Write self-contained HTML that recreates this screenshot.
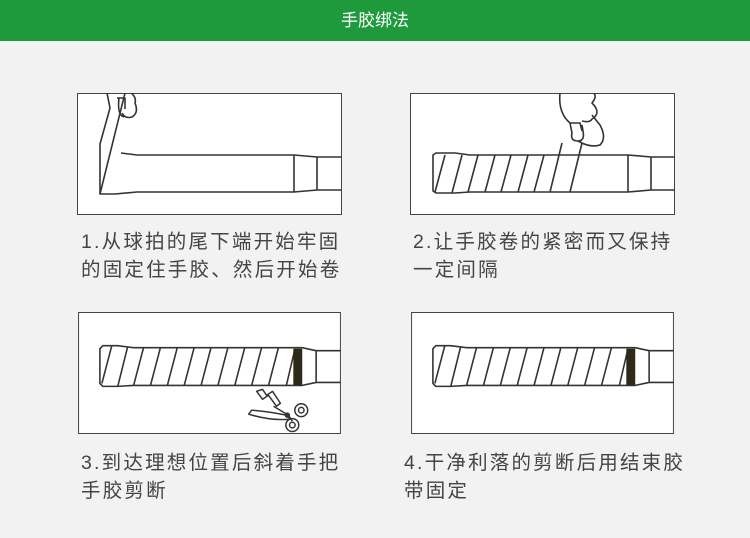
<!DOCTYPE html>
<html><head><meta charset="utf-8"><style>
body{margin:0;width:750px;height:538px;background:#f2f2f2;position:relative;overflow:hidden;font-family:"Liberation Sans","Noto Sans CJK SC",sans-serif}
.hd{position:absolute;left:0;top:0;width:750px;height:41px;background:#1e9a3c;color:#fff;font-size:17px;text-align:center;line-height:41px}
svg.p{position:absolute;width:265px;height:122px}
.t{position:absolute;font-size:19.5px;color:#444;line-height:28px;letter-spacing:2.2px;white-space:nowrap}
</style></head><body>
<div class="hd">手胶绑法</div>

<svg class="p" style="left:77px;top:93px" viewBox="0 0 265 122">
<rect x="0.5" y="0.5" width="264" height="121" fill="#fff" stroke="#444"/>
<g fill="none" stroke="#333" stroke-width="1.6" stroke-linejoin="round">
<path d="M265,64 L240,64 L217,62 L60,62 L44,60 M265,97 L240,97 L217,99 L60,99 L38,101 L23,101 L23,51 L33,15 M217,62 L217,99 M240,64 L240,97"/>
<path d="M23,101 L48,0 M33,15 L30,0 M48,0 L52,-2 Q60,4 58,10 Q62,20 55,24 Q48,26 45,20 M42,5 Q40,22 47,24"/>
<path d="M40,5 L48,5 L48,16"/>
</g></svg>

<svg class="p" style="left:410px;top:93px" viewBox="0 0 265 122">
<rect x="0.5" y="0.5" width="264" height="121" fill="#fff" stroke="#444"/>
<g fill="none" stroke="#333" stroke-width="1.6" stroke-linejoin="round">
<path d="M265,64 L241,64 L218,62 L60,62 L45,60 L26,60 L23,62 L23,98 L26,100 L45,100 L60,99 L218,99 L241,97 L265,97 M218,62 L218,99 M241,64 L241,97"/>
<path d="M25,99 L35,62 M42,100 L52,62 M58,99 L68,62 M75,99 L85,62 M91,99 L101,62 M108,99 L118,62 M124,99 L134,62 M140,99 L152,50 M160,99 L172,50"/>
<path d="M150,0 Q148,20 160,30 L162,40 Q160,48 168,48 Q175,48 173,38 L172,32 M172,28 Q180,30 182,26 Q192,20 182,10 Q190,0 178,-2 M168,48 Q180,55 190,52 Q197,45 190,32 L182,22 M160,30 L170,30 L172,38"/>
</g></svg>

<svg class="p" style="left:77px;top:312px" viewBox="0 0 265 123">
<rect x="0.5" y="0.5" width="264" height="122" fill="#fff" stroke="#444"/>
<g fill="none" stroke="#333" stroke-width="1.6" stroke-linejoin="round">
<path d="M265,39 L240,39 L226,36 L217,36 L56,36 L40,34 L25,34 L22,37 L22,72 L25,75 L40,75 L56,74 L217,74 L226,74 L240,71 L265,71 M240,39 L240,71"/>
<path d="M24,72 L34,34 M40,75 L50,35 M56,74 L66,36 M73,74 L83,36 M90,74 L100,36 M107,74 L117,36 M124,74 L134,36 M141,74 L151,36 M158,74 L168,36 M175,74 L185,36 M192,74 L202,36 M210,74 L218,40"/>
</g>
<rect x="217" y="37" width="9" height="37" fill="#2e2a18"/>
<g fill="none" stroke="#333" stroke-width="1.5" stroke-linejoin="round">
<path d="M180,80 L186,78 L190,84 L196,80 L204,92 L200,95 L192,84 L186,88 Z"/>
<path d="M175,99 Q190,100 210,104 L214,108 Q195,110 172,103 Z"/>
<path d="M197,95 L212,104 L216,110"/>
<circle cx="225" cy="99" r="6.5"/><circle cx="225" cy="99" r="2.8"/>
<circle cx="216" cy="114" r="6.5"/><circle cx="216" cy="114" r="2.8"/>
<circle cx="211" cy="104" r="2"/>
</g></svg>

<svg class="p" style="left:410px;top:312px" viewBox="0 0 265 123">
<rect x="0.5" y="0.5" width="264" height="122" fill="#fff" stroke="#444"/>
<g fill="none" stroke="#333" stroke-width="1.6" stroke-linejoin="round">
<path d="M265,39 L240,39 L226,36 L217,36 L56,36 L40,34 L25,34 L22,37 L22,72 L25,75 L40,75 L56,74 L217,74 L226,74 L240,71 L265,71 M240,39 L240,71"/>
<path d="M24,72 L34,34 M40,75 L50,35 M56,74 L66,36 M73,74 L83,36 M90,74 L100,36 M107,74 L117,36 M124,74 L134,36 M141,74 L151,36 M158,74 L168,36 M175,74 L185,36 M192,74 L202,36 M210,74 L218,40"/>
</g>
<rect x="217" y="37" width="9" height="37" fill="#2e2a18"/>
</svg>

<div class="t" style="left:81px;top:228px">1.从球拍的尾下端开始牢固<br>的固定住手胶、然后开始卷</div>
<div class="t" style="left:413px;top:228px">2.让手胶卷的紧密而又保持<br>一定间隔</div>
<div class="t" style="left:81px;top:449px">3.到达理想位置后斜着手把<br>手胶剪断</div>
<div class="t" style="left:404px;top:449px">4.干净利落的剪断后用结束胶<br>带固定</div>
</body></html>
